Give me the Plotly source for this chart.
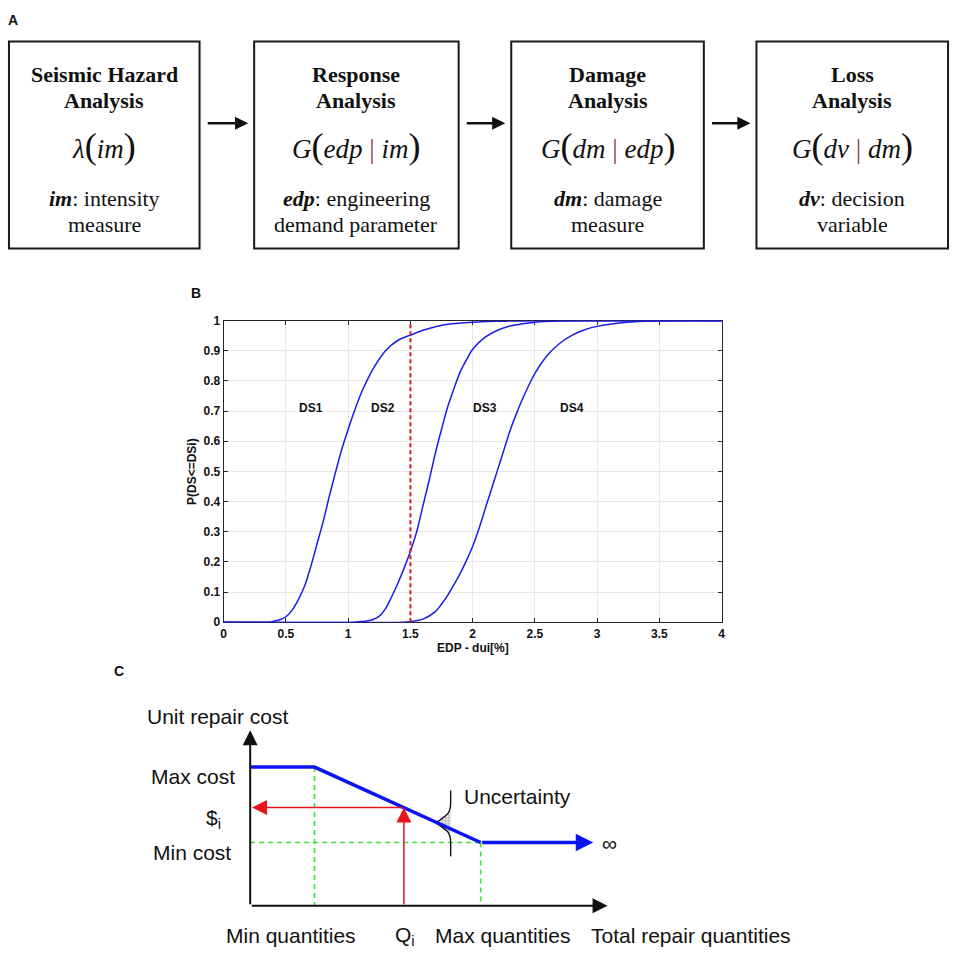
import plotly.graph_objects as go

W = H = 957

# ---------------- panel A: PEER framework stages ----------------
stage_titles = [["Seismic Hazard", "Analysis"], ["Response", "Analysis"],
                ["Damage", "Analysis"], ["Loss", "Analysis"]]
stage_funcs = [("λ", "im", None), ("G", "edp", "im"), ("G", "dm", "edp"), ("G", "dv", "dm")]
stage_vars = ["im", "edp", "dm", "dv"]
stage_desc = [["intensity", "measure"], ["engineering", "demand parameter"],
              ["damage", "measure"], ["decision", "variable"]]

# ---------------- panel B: fragility curves ----------------
edp_1 = [0, 0.37, 0.4, 0.45, 0.5, 0.55, 0.6, 0.65, 0.7, 0.75, 0.8, 0.85, 0.9, 0.95, 1.0,
         1.05, 1.1, 1.15, 1.2, 1.3, 1.4, 1.5, 1.6, 1.7, 1.8, 2.0, 2.2, 2.5, 4.0]
p_1 = [0, 0, 0.003, 0.008, 0.018, 0.04, 0.075, 0.12, 0.185, 0.26, 0.335, 0.42, 0.5, 0.575, 0.64,
       0.7, 0.755, 0.8, 0.84, 0.9, 0.935, 0.952, 0.968, 0.98, 0.988, 0.995, 0.998, 1.0, 1.0]
edp_2 = [0, 1.05, 1.1, 1.15, 1.2, 1.25, 1.3, 1.35, 1.4, 1.45, 1.5, 1.55, 1.6, 1.65, 1.7, 1.75,
         1.8, 1.85, 1.9, 1.95, 2.0, 2.1, 2.2, 2.3, 2.4, 2.5, 2.7, 3.0, 4.0]
p_2 = [0, 0, 0.002, 0.004, 0.009, 0.02, 0.045, 0.085, 0.13, 0.18, 0.235, 0.3, 0.385, 0.47, 0.56, 0.64,
       0.715, 0.775, 0.83, 0.87, 0.905, 0.945, 0.968, 0.982, 0.99, 0.995, 0.999, 1.0, 1.0]
edp_3 = [0, 1.45, 1.5, 1.6, 1.7, 1.75, 1.8, 1.85, 1.9, 1.95, 2.0, 2.05, 2.1, 2.15, 2.2, 2.25,
         2.3, 2.35, 2.4, 2.45, 2.5, 2.6, 2.7, 2.8, 2.9, 3.0, 3.2, 3.4, 3.6, 4.0]
p_3 = [0, 0, 0.002, 0.01, 0.035, 0.06, 0.09, 0.125, 0.162, 0.205, 0.252, 0.31, 0.375, 0.44, 0.505, 0.57,
       0.635, 0.69, 0.74, 0.785, 0.825, 0.885, 0.925, 0.952, 0.97, 0.981, 0.993, 0.998, 1.0, 1.0]
fragility = [(edp_1, p_1), (edp_2, p_2), (edp_3, p_3)]
ds_labels = ["DS1", "DS2", "DS3", "DS4"]
ds_label_x = [0.70, 1.28, 2.10, 2.80]
ds_label_y = 0.71
edp_demand = 1.5

# ---------------- panel C: repair cost model ----------------
q_min, q_i, q_max, q_inf = 1.8, 4.3, 6.45, 9.6
c_max, c_i, c_min = 7.9, 5.6, 3.6
cost_q = [0, q_min, q_max]
cost_c = [c_max, c_max, c_min]
# uncertainty bump drawn across the cost line
bump_q = [5.61, 5.61, 5.60, 5.55, 5.45, 5.32, 5.22, 5.32, 5.45, 5.55, 5.60, 5.61, 5.61]
bump_c = [6.57, 6.0, 5.6, 5.3, 5.1, 4.9, 4.72, 4.55, 4.35, 4.15, 3.85, 3.4, 2.81]


def px(x):
    return x / W


def py(y):
    return 1 - y / H


SERIF = "Liberation Serif, Times New Roman, serif"
SANS = "Liberation Sans, Arial, sans-serif"

fig = go.Figure()
shapes = []
ann = []

# ---- panel A
box_l = [6, 253, 512, 759]
box_r = [198, 459, 706, 952]
for i in range(4):
    cx = (box_l[i] + box_r[i]) / 2
    shapes.append(dict(type="rect", xref="paper", yref="paper",
                       x0=px(box_l[i]), x1=px(box_r[i]), y0=py(245), y1=py(35),
                       line=dict(color="#1a1a1a", width=2)))
    for k, line in enumerate(stage_titles[i]):
        ann.append(dict(x=px(cx), y=py(68 + 27 * k), text="<b>%s</b>" % line,
                        font=dict(family=SERIF, size=22, color="#111")))
    f, a, b = stage_funcs[i]
    big = "<span style='font-size:36px'>%s</span>"
    inner = "<i>%s</i>" % a
    if b:
        inner += " <span style='color:#8a3a50'>|</span> <i>%s</i>" % b
    ann.append(dict(x=px(cx), y=py(141), text="<i>%s</i>%s%s%s" % (f, big % "(", inner, big % ")"),
                    font=dict(family=SERIF, size=27, color="#111")))
    ann.append(dict(x=px(cx), y=py(194), text="<b><i>%s</i></b>: %s" % (stage_vars[i], stage_desc[i][0]),
                    font=dict(family=SERIF, size=22, color="#111")))
    ann.append(dict(x=px(cx), y=py(221), text=stage_desc[i][1],
                    font=dict(family=SERIF, size=22, color="#111")))
    if i < 3:
        ann.append(dict(x=px(box_l[i + 1] - 6), y=py(118), ax=-(box_l[i + 1] - box_r[i] - 13), ay=0,
                        text="", showarrow=True, arrowhead=2, arrowsize=1.1, arrowwidth=2.4,
                        arrowcolor="#111"))

# ---- panel B
for xs, ys in fragility:
    fig.add_trace(go.Scatter(x=xs, y=ys, mode="lines", line=dict(color="#1c1ce6", width=1.5),
                             line_shape="spline", xaxis="x", yaxis="y", hoverinfo="skip"))
fig.add_trace(go.Scatter(x=[edp_demand, edp_demand], y=[0, 1], mode="lines",
                         line=dict(color="#e0151b", width=2, dash="4px,3px"), xaxis="x", yaxis="y"))
for lab, lx in zip(ds_labels, ds_label_x):
    ann.append(dict(x=lx, y=ds_label_y, xref="x", yref="y", text=lab,
                    font=dict(family=SANS, size=12, color="#111", weight="bold")))
ann.append(dict(x=0.5, xref="x domain", y=py(651), text="EDP - dui[%]",
                font=dict(family=SANS, size=12, color="#111", weight="bold")))
ann.append(dict(x=px(191), y=0.5, yref="y domain", text="P(DS<=DSi)", textangle=-90,
                font=dict(family=SANS, size=12, color="#111", weight="bold")))

# ---- panel C
green = dict(color="#3ee03e", width=1.6, dash="5px,4px")
for xs, ys in [([q_min, q_min], [c_max, 0]), ([0, q_max], [c_min, c_min]), ([q_max, q_max], [c_min, 0])]:
    fig.add_trace(go.Scatter(x=xs, y=ys, mode="lines", line=green, xaxis="x2", yaxis="y2"))
fig.add_trace(go.Scatter(x=bump_q[3:10] + [5.61, 5.61], y=bump_c[3:10] + [4.15, 5.3], mode="lines",
                         fill="toself", fillcolor="rgba(255,255,255,0)", line=dict(width=0),
                         fillpattern=dict(shape=".", fgcolor="#666", size=3, solidity=0.6),
                         xaxis="x2", yaxis="y2"))
fig.add_trace(go.Scatter(x=bump_q, y=bump_c, mode="lines", line=dict(color="#111", width=1.4),
                         line_shape="spline", xaxis="x2", yaxis="y2"))
fig.add_trace(go.Scatter(x=cost_q, y=cost_c, mode="lines", line=dict(color="#0a14f0", width=3.5),
                         xaxis="x2", yaxis="y2"))


def arrow(x0, y0, x1, y1, color, width, size):
    return dict(x=x1, y=y1, ax=x0, ay=y0, xref="x2", yref="y2", axref="x2", ayref="y2",
                text="", showarrow=True, arrowhead=2, arrowsize=size, arrowwidth=width,
                arrowcolor=color)


ann.append(arrow(q_max, c_min, q_inf, c_min, "#0a14f0", 3.5, 1.0))
ann.append(arrow(q_i, 0, q_i, c_i, "#e8141c", 1.5, 2.0))
ann.append(arrow(q_i, c_i, 0.05, c_i, "#e8141c", 1.5, 2.0))
ann.append(arrow(0, 0, 10, 0, "#111", 2, 1.5))
ann.append(arrow(0, 0, 0, 10, "#111", 2, 1.5))

cfont = dict(family=SANS, size=21, color="#111")
ann += [
    dict(x=-2.95, y=10.8, xanchor="left", text="Unit repair cost"),
    dict(x=-0.38, y=7.35, xanchor="right", text="Max cost"),
    dict(x=-0.75, y=4.95, xanchor="right", text="$<sub>i</sub>"),
    dict(x=-0.47, y=3.03, xanchor="right", text="Min cost"),
    dict(x=q_min - 0.65, y=-1.72, text="Min quantities"),
    dict(x=q_i + 0.03, y=-1.72, text="Q<sub>i</sub>"),
    dict(x=q_max + 0.6, y=-1.72, text="Max quantities"),
    dict(x=12.33, y=-1.72, text="Total repair quantities"),
    dict(x=q_inf + 0.2, y=3.55, xanchor="left", text="∞"),
    dict(x=5.92, y=6.25, xanchor="left", text="Uncertainty"),
]
for a in ann[-10:]:
    a.update(xref="x2", yref="y2", font=cfont)

# panel letters
for lab, (lx, ly) in zip("ABC", [(10, 13), (194, 290), (117, 674)]):
    ann.append(dict(x=px(lx), y=py(ly), text="<b>%s</b>" % lab,
                    font=dict(family=SANS, size=14, color="#111")))

for a in ann:
    a.setdefault("xref", "paper")
    a.setdefault("yref", "paper")
    a.setdefault("showarrow", False)
    a.setdefault("xanchor", "center")
    a.setdefault("yanchor", "middle")

axis_b = dict(showline=True, linecolor="#262626", linewidth=1, mirror="ticks", ticks="inside",
              ticklen=4, tickcolor="#262626", showgrid=True, gridcolor="#e8e8e8", zeroline=False,
              tickfont=dict(family=SANS, size=12, color="#111", weight="bold"), layer="below traces")
hidden = dict(visible=False, showgrid=False, zeroline=False)

fig.update_layout(
    width=W, height=H, margin=dict(l=0, r=0, t=0, b=0),
    paper_bgcolor="white", plot_bgcolor="rgba(0,0,0,0)", showlegend=False,
    xaxis=dict(axis_b, domain=[px(222.3), px(724)], range=[0, 4], dtick=0.5, anchor="y"),
    yaxis=dict(axis_b, domain=[py(624.3), py(318.3)], range=[0, 1], dtick=0.1, anchor="x"),
    xaxis2=dict(hidden, domain=[0, 1], range=[-249 / 36, (W - 249) / 36], anchor="y2"),
    yaxis2=dict(hidden, domain=[0, py(660)], range=[(912 - 957) / 17.8, (912 - 660) / 17.8], anchor="x2"),
    shapes=shapes, annotations=ann,
)

fig.write_html("out.html", config={"displayModeBar": False},
               post_script="document.body.style.margin='0';document.body.style.overflow='hidden';")
